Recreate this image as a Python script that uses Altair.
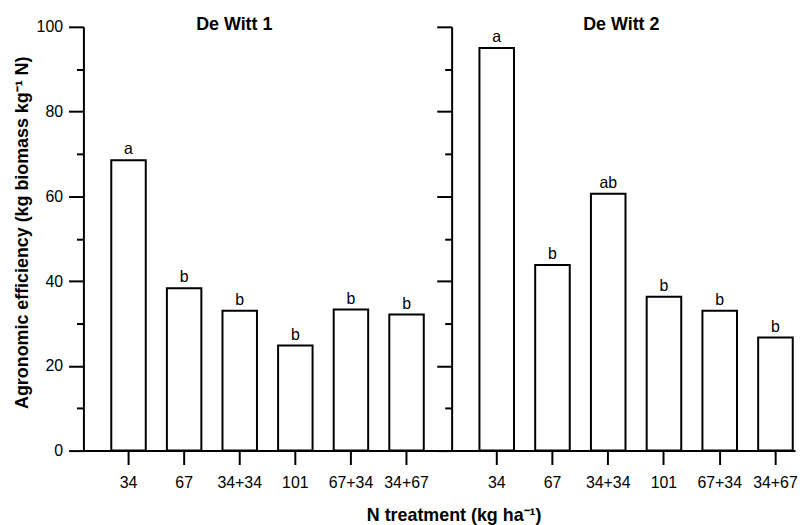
import altair as alt
import pandas as pd

treatments = ["34", "67", "34+34", "101", "67+34", "34+67"]
site_names = ["De Witt 1", "De Witt 2"]
site1_values = [68.5, 38.3, 33.0, 24.8, 33.3, 32.1]
site1_letters = ["a", "b", "b", "b", "b", "b"]
site2_values = [95.0, 43.8, 60.6, 36.3, 33.0, 26.7]
site2_letters = ["a", "b", "ab", "b", "b", "b"]
y_ticks = [0, 10, 20, 30, 40, 50, 60, 70, 80, 90, 100]

FONT = "Liberation Sans, Arial, Helvetica, sans-serif"
PLOT_H = 427

tick_size = {"condition": {"test": "datum.value % 20 === 0", "value": 15}, "value": 7}


def panel(values, letters, name, first, width, po, align, title_x):
    df = pd.DataFrame({"treatment": treatments, "ae": values, "letter": letters})
    x_scale = alt.Scale(paddingInner=0.38, paddingOuter=po, align=align)
    if first:
        x_axis = alt.Axis(
            title="N treatment (kg ha\u207b\u00b9)",
            titleX=373, titleY=65, titleAlign="center", titleBaseline="middle",
            titleFont=FONT, titleFontSize=18, titleFontWeight="bold", titleColor="black",
            labelAngle=0,
        )
        y_axis = alt.Axis(
            values=y_ticks,
            tickSize=tick_size,
            labelExpr="datum.value % 20 === 0 ? datum.label : ''",
            title="Agronomic efficiency (kg biomass kg\u207b\u00b9 N)",
            titlePadding=5, titleY=207,
            titleFont=FONT, titleFontSize=18, titleFontWeight="bold", titleColor="black",
        )
    else:
        x_axis = alt.Axis(title=None, labelAngle=0)
        y_axis = alt.Axis(values=y_ticks, tickSize=tick_size, labels=False, title=None)

    base = alt.Chart(df)
    bars = base.mark_bar(fill="white", stroke="black", strokeWidth=2).encode(
        x=alt.X("treatment:N", sort=treatments, scale=x_scale, axis=x_axis),
        y=alt.Y("ae:Q", scale=alt.Scale(domain=[0, 100], nice=False), axis=y_axis),
    )
    letters_layer = base.mark_text(
        baseline="bottom", dy=-3, fontSize=16, font=FONT, color="black"
    ).encode(
        x=alt.X("treatment:N", sort=treatments),
        y="ae:Q",
        text="letter:N",
    )
    title_layer = alt.Chart(pd.DataFrame({"site": [name]})).mark_text(
        fontSize=18, fontWeight="bold", font=FONT, color="black", baseline="middle"
    ).encode(
        text="site:N",
        x=alt.value(title_x),
        y=alt.value(-2),
    )
    return alt.layer(bars, letters_layer, title_layer).properties(width=width, height=PLOT_H)


p1 = panel(site1_values, site1_letters, site_names[0], True, 371, 0.501, 0.5, 152)
p2 = panel(site2_values, site2_letters, site_names[1], False, 346, 0.27, 0.924, 171)

chart = alt.hconcat(p1, p2, spacing=0, bounds="flush").properties(
    padding={"left": 5, "top": 6, "right": 0, "bottom": 0}
).configure_view(stroke=None).configure_axis(
    domainColor="black", domainWidth=2, tickColor="black", tickWidth=2,
    labelFont=FONT, labelFontSize=16, labelColor="black", labelPadding=6,
    grid=False,
).configure_axisX(tickSize=14, labelPadding=10)

chart.save("out.html", embed_options={"renderer": "svg", "actions": False})
